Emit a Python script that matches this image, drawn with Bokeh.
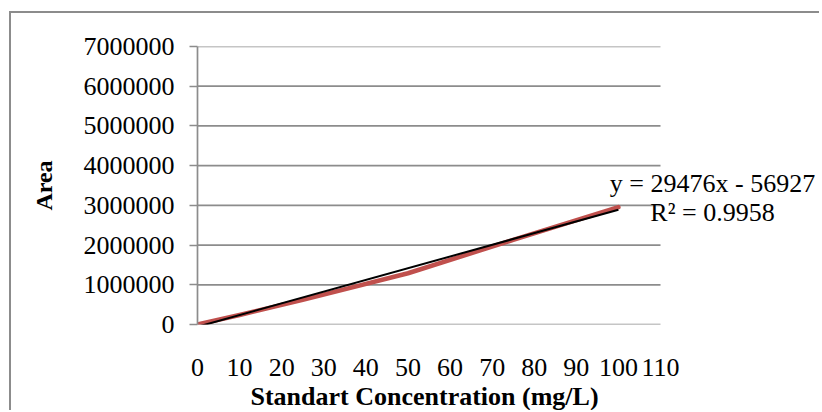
from bokeh.plotting import figure
from bokeh.models import Range1d, FixedTicker, Label, Title
from bokeh.embed import file_html
from bokeh.resources import INLINE

# ---- data ----
conc = [0, 10, 25, 50, 75, 100]
area = [0, 240000, 620000, 1290000, 2130000, 2955000]

trend_slope = 29476
trend_intercept = -56927
trend_x = [0, 100]
trend_y = [trend_slope * x + trend_intercept for x in trend_x]

x_ticks = [0, 10, 20, 30, 40, 50, 60, 70, 80, 90, 100, 110]
x_tick_labels = ["0", "10", "20", "30", "40", "50", "60", "70", "80", "90", "100", "110"]
y_ticks = [0, 1000000, 2000000, 3000000, 4000000, 5000000, 6000000, 7000000]
y_tick_labels = ["0", "1000000", "2000000", "3000000", "4000000", "5000000", "6000000", "7000000"]

eq_text = "y = 29476x - 56927"
r2_text = "R² = 0.9958"
x_title = "Standart Concentration (mg/L)"
y_title = "Area"

FONT = "Liberation Serif"
GRID = "#8c8c8c"

# frame spans to the right edge so the equation label is not clipped;
# the axis itself runs 0..110 (gridlines drawn over that span only)
p = figure(width=810, height=399,
           x_range=Range1d(0, 148.25), y_range=Range1d(0, 7000000),
           output_backend="svg", toolbar_location=None,
           min_border_left=186, min_border_right=0,
           min_border_top=33, min_border_bottom=88)
p.styles = {"border-left": "2px solid #8c8c8c", "border-top": "2px solid #8c8c8c",
            "margin-left": "9px", "margin-top": "11px"}
p.outline_line_color = None
p.background_fill_color = "white"
p.border_fill_color = "white"

# grids (drawn as segments over the 0..110 axis span)
p.xgrid.grid_line_color = None
p.ygrid.grid_line_color = None
p.segment(x0=x_ticks[0], x1=x_ticks[-1], y0=y_ticks, y1=y_ticks,
          line_color=GRID, line_width=1.7)

# y axis
p.yaxis.ticker = FixedTicker(ticks=y_ticks)
p.yaxis.major_label_overrides = {t: s for t, s in zip(y_ticks, y_tick_labels)}
p.yaxis.axis_line_color = GRID
p.yaxis.axis_line_width = 1.7
p.yaxis.major_tick_line_color = GRID
p.yaxis.major_tick_line_width = 1.7
p.yaxis.major_tick_out = 8
p.yaxis.major_tick_in = 0
p.yaxis.minor_tick_line_color = None
p.yaxis.major_label_text_font = FONT
p.yaxis.major_label_text_font_size = "26px"
p.yaxis.major_label_text_color = "black"
p.yaxis.major_label_standoff = 15
p.yaxis.axis_label = y_title
p.yaxis.axis_label_text_font = FONT
p.yaxis.axis_label_text_font_style = "bold"
p.yaxis.axis_label_text_font_size = "24px"
p.yaxis.axis_label_text_color = "black"
p.yaxis.axis_label_standoff = 24

# x axis
p.xaxis.ticker = FixedTicker(ticks=x_ticks)
p.xaxis.major_label_overrides = {t: s for t, s in zip(x_ticks, x_tick_labels)}
p.xaxis.axis_line_color = None
p.xaxis.major_tick_line_color = None
p.xaxis.minor_tick_line_color = None
p.xaxis.major_label_text_font = FONT
p.xaxis.major_label_text_font_size = "26px"
p.xaxis.major_label_text_color = "black"
p.xaxis.major_label_standoff = 28

# x axis title, centred under the 0..110 span
p.add_layout(Title(text=x_title, align="left", offset=53, standoff=3,
                   text_font=FONT, text_font_size="26px", text_font_style="bold",
                   text_color="black"), "below")

# series and trendline
p.line(conc, area, line_color="#C0504D", line_width=4.5, line_cap="round", line_join="round")
p.line(trend_x, trend_y, line_color="black", line_width=2)

# trendline labels
p.add_layout(Label(x=122.35, y=3550000, text=eq_text, text_align="center",
                   text_baseline="alphabetic", text_font=FONT, text_font_size="26px",
                   text_color="black"))
p.add_layout(Label(x=122.35, y=2830000, text=r2_text, text_align="center",
                   text_baseline="alphabetic", text_font=FONT, text_font_size="26px",
                   text_color="black"))

open("out.html", "w").write(file_html(p, INLINE))
